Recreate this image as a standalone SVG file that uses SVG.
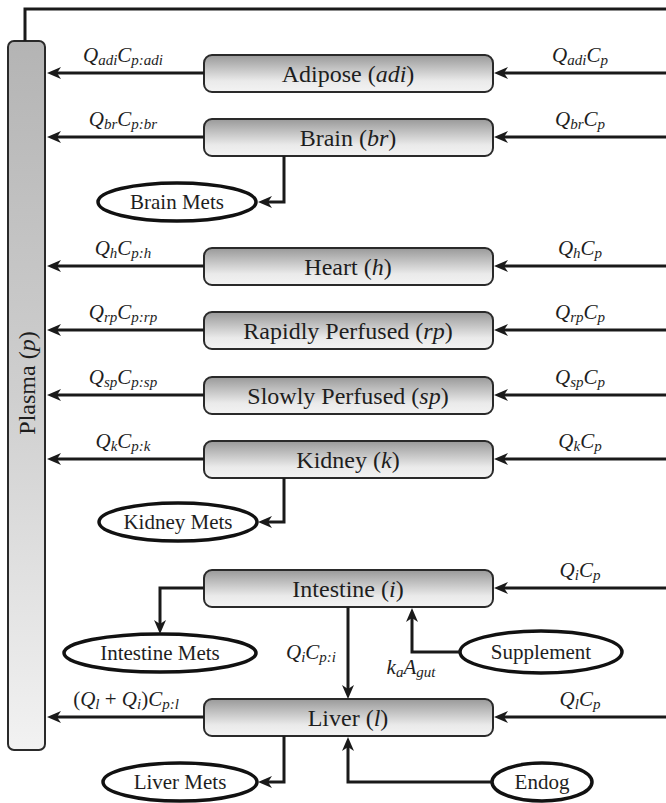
<svg xmlns="http://www.w3.org/2000/svg" width="666" height="803" viewBox="0 0 666 803" font-family="Liberation Serif, DejaVu Serif, Noto Serif, Times New Roman, serif">
<defs>
<linearGradient id="boxg" x1="0" y1="0" x2="0" y2="1">
<stop offset="0" stop-color="#999999"/>
<stop offset="0.7" stop-color="#eaeaea"/>
<stop offset="1" stop-color="#f3f3f3"/>
</linearGradient>
<linearGradient id="plg" x1="0" y1="0" x2="0" y2="1">
<stop offset="0" stop-color="#b4b4b4"/>
<stop offset="0.5" stop-color="#cfcfcf"/>
<stop offset="1" stop-color="#f2f2f2"/>
</linearGradient>
<marker id="ah" markerUnits="userSpaceOnUse" markerWidth="16" markerHeight="14" refX="9" refY="6" orient="auto">
<path d="M0,0 L14,6 L0,12 L4,6 z" fill="#1a1a1a"/>
</marker>
<style>
.box{fill:url(#boxg);stroke:#2a2a2a;stroke-width:2}
.ell{fill:#ffffff;stroke:#111;stroke-width:3.5}
text{fill:#1e1e1e;text-anchor:middle}
.bt{font-size:24px}
.et{font-size:21px}
.lb{font-size:21px}
.i{font-style:italic}
.s{font-style:italic;font-size:15px}
.c{fill:none;stroke:#1a1a1a;stroke-width:3}
.ca{fill:none;stroke:#1a1a1a;stroke-width:3;marker-end:url(#ah)}
</style>
</defs>

<g id="plasma">
<rect x="8" y="41" width="37" height="709" rx="6" fill="url(#plg)" stroke="#2a2a2a" stroke-width="2"/>
<text class="bt" transform="translate(35,383) rotate(-90)" x="0" y="0">Plasma (<tspan class="i">p</tspan>)</text>
</g>

<g id="adipose">
<rect class="box" x="204" y="55" width="289" height="37" rx="8"/>
<text class="bt" x="348" y="82">Adipose (<tspan class="i">adi</tspan>)</text>
</g>
<g id="brain">
<rect class="box" x="204" y="119" width="289" height="37" rx="8"/>
<text class="bt" x="348" y="146">Brain (<tspan class="i">br</tspan>)</text>
</g>
<g id="brainmets">
<ellipse class="ell" cx="177" cy="202" rx="79" ry="19"/>
<text class="et" x="177" y="209">Brain Mets</text>
</g>
<g id="heart">
<rect class="box" x="204" y="248" width="289" height="37" rx="8"/>
<text class="bt" x="348" y="275">Heart (<tspan class="i">h</tspan>)</text>
</g>
<g id="rapid">
<rect class="box" x="204" y="312" width="289" height="37" rx="8"/>
<text class="bt" x="348" y="339">Rapidly Perfused (<tspan class="i">rp</tspan>)</text>
</g>
<g id="slow">
<rect class="box" x="204" y="377" width="289" height="37" rx="8"/>
<text class="bt" x="348" y="404">Slowly Perfused (<tspan class="i">sp</tspan>)</text>
</g>
<g id="kidney">
<rect class="box" x="204" y="441" width="289" height="37" rx="8"/>
<text class="bt" x="348" y="468">Kidney (<tspan class="i">k</tspan>)</text>
</g>
<g id="kidneymets">
<ellipse class="ell" cx="178" cy="522" rx="79" ry="19"/>
<text class="et" x="178" y="529">Kidney Mets</text>
</g>
<g id="intestine">
<rect class="box" x="204" y="570" width="289" height="37" rx="8"/>
<text class="bt" x="348" y="597">Intestine (<tspan class="i">i</tspan>)</text>
</g>
<g id="intestinemets">
<ellipse class="ell" cx="160" cy="653" rx="96" ry="19"/>
<text class="et" x="160" y="660">Intestine Mets</text>
</g>
<g id="supplement">
<ellipse class="ell" cx="541" cy="652" rx="81" ry="21"/>
<text class="et" x="541" y="659">Supplement</text>
</g>
<g id="liver">
<rect class="box" x="204" y="699" width="289" height="37" rx="8"/>
<text class="bt" x="348" y="726">Liver (<tspan class="i">l</tspan>)</text>
</g>
<g id="livermets">
<ellipse class="ell" cx="180" cy="782" rx="77" ry="19"/>
<text class="et" x="180" y="789">Liver Mets</text>
</g>
<g id="endog">
<ellipse class="ell" cx="542" cy="782" rx="50" ry="19"/>
<text class="et" x="542" y="789">Endog</text>
</g>

<g id="connectors">
<polyline class="c" points="25,41 25,9 666,9"/>
<line class="ca" x1="204" y1="73" x2="52" y2="73"/>
<line class="ca" x1="666" y1="73" x2="499" y2="73"/>
<line class="ca" x1="204" y1="137" x2="52" y2="137"/>
<line class="ca" x1="666" y1="137" x2="499" y2="137"/>
<polyline class="ca" points="284,156 284,202 263,202"/>
<line class="ca" x1="204" y1="266" x2="52" y2="266"/>
<line class="ca" x1="666" y1="266" x2="499" y2="266"/>
<line class="ca" x1="204" y1="330" x2="52" y2="330"/>
<line class="ca" x1="666" y1="330" x2="499" y2="330"/>
<line class="ca" x1="204" y1="395" x2="52" y2="395"/>
<line class="ca" x1="666" y1="395" x2="499" y2="395"/>
<line class="ca" x1="204" y1="459" x2="52" y2="459"/>
<line class="ca" x1="666" y1="459" x2="499" y2="459"/>
<polyline class="ca" points="284,478 284,522 263,522"/>
<line class="ca" x1="666" y1="588" x2="499" y2="588"/>
<polyline class="ca" points="204,588 160,588 160,629"/>
<line class="ca" x1="348" y1="607" x2="348" y2="694"/>
<polyline class="ca" points="460,652 412,652 412,613"/>
<line class="ca" x1="204" y1="717" x2="52" y2="717"/>
<line class="ca" x1="666" y1="717" x2="499" y2="717"/>
<polyline class="ca" points="284,736 284,782 263,782"/>
<polyline class="ca" points="492,782 348,782 348,742"/>

<text class="lb" x="123" y="62"><tspan class="i">Q</tspan><tspan class="s" dy="3">adi</tspan><tspan class="i" dy="-3">C</tspan><tspan class="s" dy="3">p:adi</tspan></text>
<text class="lb" x="580" y="62"><tspan class="i">Q</tspan><tspan class="s" dy="3">adi</tspan><tspan class="i" dy="-3">C</tspan><tspan class="s" dy="3">p</tspan></text>
<text class="lb" x="123" y="126"><tspan class="i">Q</tspan><tspan class="s" dy="3">br</tspan><tspan class="i" dy="-3">C</tspan><tspan class="s" dy="3">p:br</tspan></text>
<text class="lb" x="580" y="126"><tspan class="i">Q</tspan><tspan class="s" dy="3">br</tspan><tspan class="i" dy="-3">C</tspan><tspan class="s" dy="3">p</tspan></text>
<text class="lb" x="123" y="255"><tspan class="i">Q</tspan><tspan class="s" dy="3">h</tspan><tspan class="i" dy="-3">C</tspan><tspan class="s" dy="3">p:h</tspan></text>
<text class="lb" x="580" y="255"><tspan class="i">Q</tspan><tspan class="s" dy="3">h</tspan><tspan class="i" dy="-3">C</tspan><tspan class="s" dy="3">p</tspan></text>
<text class="lb" x="123" y="319"><tspan class="i">Q</tspan><tspan class="s" dy="3">rp</tspan><tspan class="i" dy="-3">C</tspan><tspan class="s" dy="3">p:rp</tspan></text>
<text class="lb" x="580" y="319"><tspan class="i">Q</tspan><tspan class="s" dy="3">rp</tspan><tspan class="i" dy="-3">C</tspan><tspan class="s" dy="3">p</tspan></text>
<text class="lb" x="123" y="384"><tspan class="i">Q</tspan><tspan class="s" dy="3">sp</tspan><tspan class="i" dy="-3">C</tspan><tspan class="s" dy="3">p:sp</tspan></text>
<text class="lb" x="580" y="384"><tspan class="i">Q</tspan><tspan class="s" dy="3">sp</tspan><tspan class="i" dy="-3">C</tspan><tspan class="s" dy="3">p</tspan></text>
<text class="lb" x="123" y="448"><tspan class="i">Q</tspan><tspan class="s" dy="3">k</tspan><tspan class="i" dy="-3">C</tspan><tspan class="s" dy="3">p:k</tspan></text>
<text class="lb" x="580" y="448"><tspan class="i">Q</tspan><tspan class="s" dy="3">k</tspan><tspan class="i" dy="-3">C</tspan><tspan class="s" dy="3">p</tspan></text>
<text class="lb" x="580" y="577"><tspan class="i">Q</tspan><tspan class="s" dy="3">i</tspan><tspan class="i" dy="-3">C</tspan><tspan class="s" dy="3">p</tspan></text>
<text class="lb" x="311" y="659"><tspan class="i">Q</tspan><tspan class="s" dy="3">i</tspan><tspan class="i" dy="-3">C</tspan><tspan class="s" dy="3">p:i</tspan></text>
<text class="lb" x="411" y="674"><tspan class="i">k</tspan><tspan class="s" dy="3">a</tspan><tspan class="i" dy="-3">A</tspan><tspan class="s" dy="3">gut</tspan></text>
<text class="lb" x="126" y="706">(<tspan class="i">Q</tspan><tspan class="s" dy="3">l</tspan><tspan dy="-3"> + </tspan><tspan class="i">Q</tspan><tspan class="s" dy="3">i</tspan><tspan dy="-3">)</tspan><tspan class="i">C</tspan><tspan class="s" dy="3">p:l</tspan></text>
<text class="lb" x="580" y="706"><tspan class="i">Q</tspan><tspan class="s" dy="3">l</tspan><tspan class="i" dy="-3">C</tspan><tspan class="s" dy="3">p</tspan></text>
</g>
</svg>
